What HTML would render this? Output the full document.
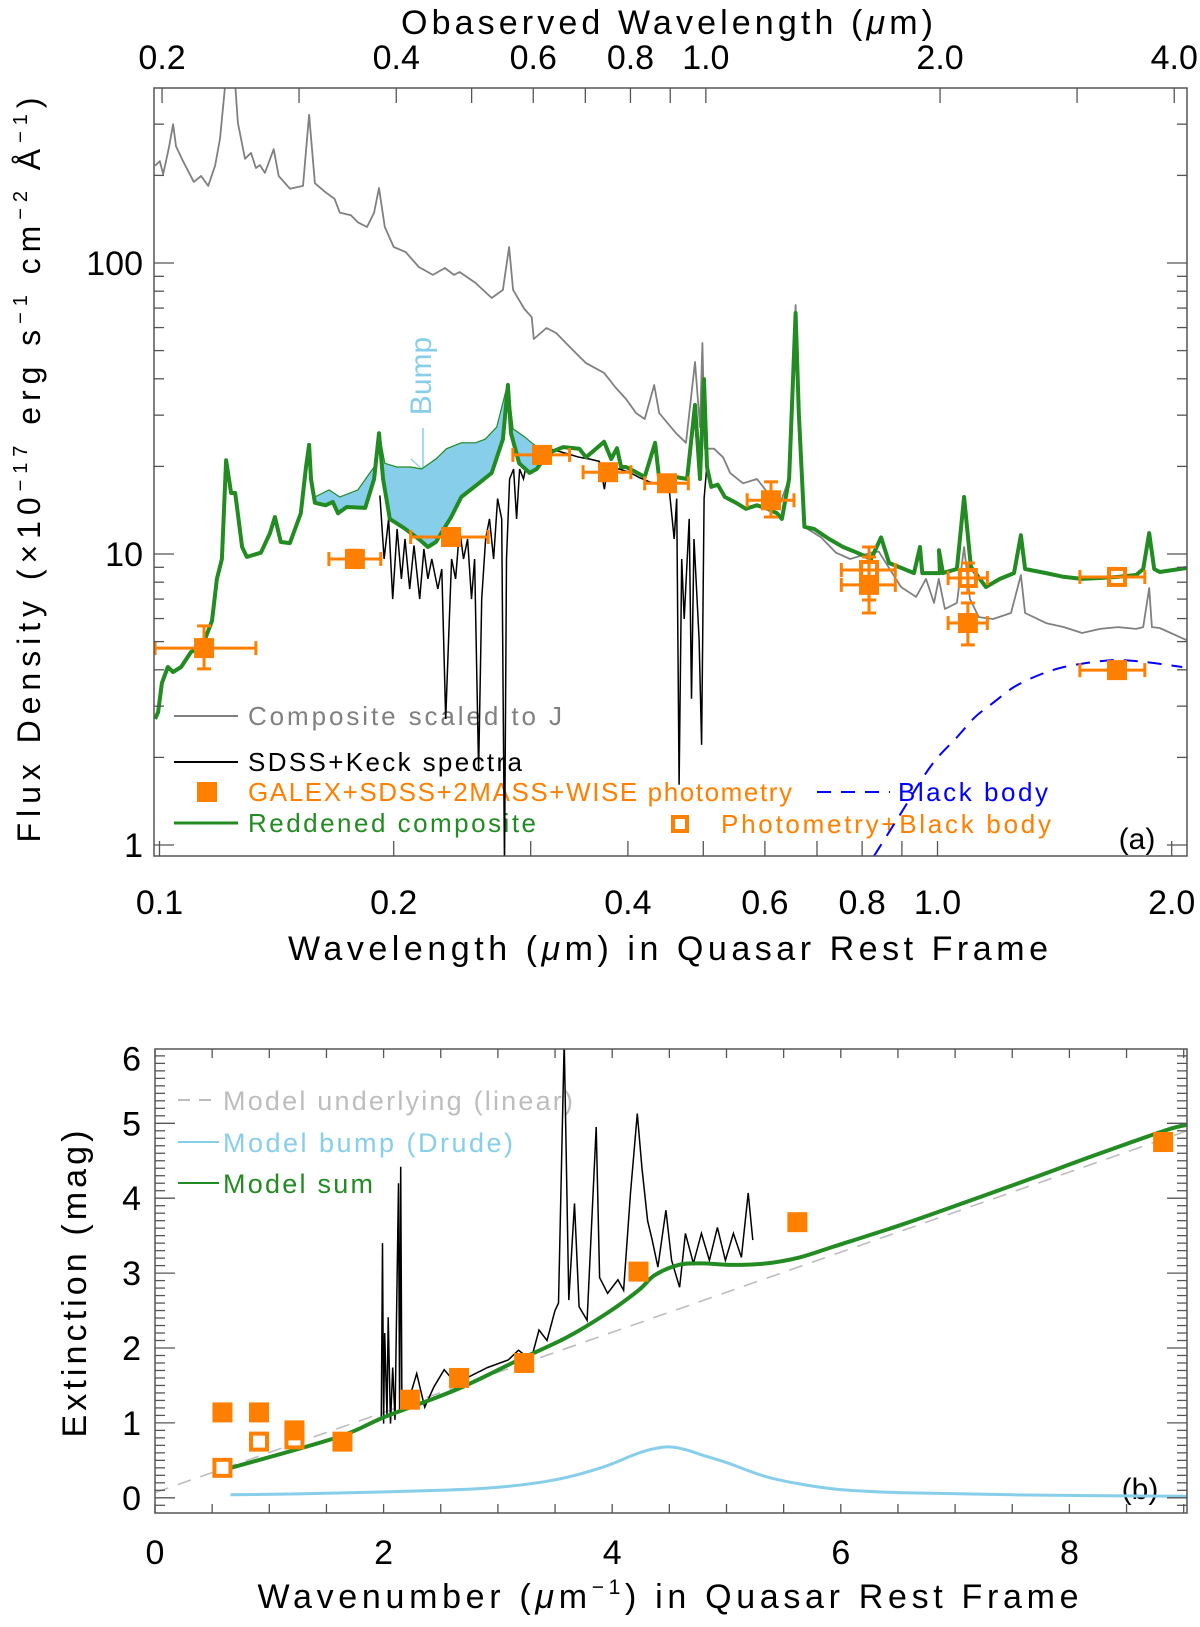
<!DOCTYPE html>
<html><head><meta charset="utf-8"><title>Quasar SED and extinction curve</title>
<style>
html,body{margin:0;padding:0;background:#fff;}
svg{display:block;font-family:"Liberation Sans","DejaVu Sans",sans-serif;}
</style></head>
<body>
<svg id="fig" xmlns="http://www.w3.org/2000/svg" width="1200" height="1627" viewBox="0 0 1200 1627">
<defs>
<clipPath id="clipA"><rect x="154" y="88" width="1033" height="768"/></clipPath>
<clipPath id="clipB"><rect x="155" y="1049" width="1032" height="464"/></clipPath>
</defs>
<rect x="0" y="0" width="1200" height="1627" fill="#fff"/>

<text x="667" y="34" font-size="34" text-anchor="middle" textLength="532" lengthAdjust="spacing">Obaserved Wavelength (<tspan font-style="italic">μ</tspan>m)</text>
<text x="668" y="960" font-size="34" text-anchor="middle" textLength="760" lengthAdjust="spacing">Wavelength (<tspan font-style="italic">μ</tspan>m) in Quasar Rest Frame</text>
<text transform="translate(40,470) rotate(-90)" font-size="32" text-anchor="middle" textLength="745" lengthAdjust="spacing">Flux Density (×10<tspan font-size="20" dy="-13">−17</tspan><tspan dy="13"> erg s</tspan><tspan font-size="20" dy="-13">−1</tspan><tspan dy="13"> cm</tspan><tspan font-size="20" dy="-13">−2</tspan><tspan dy="13"> Å</tspan><tspan font-size="20" dy="-13">−1</tspan><tspan dy="13">)</tspan></text>

<g id="legendA" font-size="26">
  <line x1="174" y1="716" x2="238" y2="716" stroke="#808080" stroke-width="2"/>
  <text x="248" y="725" fill="#808080" textLength="314" lengthAdjust="spacing">Composite scaled to J</text>
  <line x1="174" y1="762" x2="238" y2="762" stroke="#000" stroke-width="2"/>
  <text x="248" y="771" fill="#000" textLength="274" lengthAdjust="spacing">SDSS+Keck spectra</text>
  <rect x="197" y="782" width="20" height="20" fill="#FF7F00"/>
  <text x="248" y="801" fill="#FF7F00" textLength="544" lengthAdjust="spacing">GALEX+SDSS+2MASS+WISE photometry</text>
  <line x1="817" y1="792" x2="890" y2="792" stroke="#0000FF" stroke-width="2" stroke-dasharray="14,10"/>
  <text x="898" y="801" fill="#0000FF" textLength="150" lengthAdjust="spacing">Black body</text>
  <line x1="174" y1="823" x2="238" y2="823" stroke="#228B22" stroke-width="3"/>
  <text x="248" y="832" fill="#228B22" textLength="288" lengthAdjust="spacing">Reddened composite</text>
  <rect x="673" y="817" width="14" height="14" fill="none" stroke="#FF7F00" stroke-width="4"/>
  <text x="721" y="833" fill="#FF7F00" textLength="330" lengthAdjust="spacing">Photometry+Black body</text>
</g>
<text x="1137" y="849" font-size="30" text-anchor="middle">(a)</text>
<text transform="translate(431,376) rotate(-90)" font-size="30" fill="#87CEEB" text-anchor="middle">Bump</text>
<line x1="423" y1="428" x2="423" y2="470" stroke="#87CEEB" stroke-width="1.5"/>
<line x1="411" y1="459" x2="423" y2="470" stroke="#87CEEB" stroke-width="1.2"/>
<line x1="435" y1="459" x2="423" y2="470" stroke="#87CEEB" stroke-width="1.2"/>

<text x="668" y="1608" font-size="34" text-anchor="middle" textLength="821" lengthAdjust="spacing">Wavenumber (<tspan font-style="italic">μ</tspan>m<tspan font-size="21" dy="-14">−1</tspan><tspan dy="14">) in Quasar Rest Frame</tspan></text>
<text transform="translate(86,1284) rotate(-90)" font-size="34" text-anchor="middle" textLength="307" lengthAdjust="spacing">Extinction (mag)</text>
<g id="legendB" font-size="27">
  <line x1="178" y1="1100" x2="219" y2="1100" stroke="#bdbdbd" stroke-width="2" stroke-dasharray="12,9"/>
  <text x="223" y="1110" fill="#bdbdbd" textLength="350" lengthAdjust="spacing">Model underlying (linear)</text>
  <line x1="178" y1="1142" x2="219" y2="1142" stroke="#87CEEB" stroke-width="2"/>
  <text x="223" y="1152" fill="#87CEEB" textLength="290" lengthAdjust="spacing">Model bump (Drude)</text>
  <line x1="178" y1="1183" x2="219" y2="1183" stroke="#228B22" stroke-width="2"/>
  <text x="223" y="1193" fill="#228B22" textLength="150" lengthAdjust="spacing">Model sum</text>
</g>
<text x="1140" y="1499" font-size="30" text-anchor="middle">(b)</text>

<g id="layerA"></g>
<g id="layerB"></g>
<g id="axes"></g>
</svg>

<script>
// ---------- Panel (a) data ----------
const compLam = [0.0987,0.1001,0.1011,0.1029,0.1041,0.1050,0.1072,0.1107,0.1131,0.1155,0.1179,0.1196,0.1214,0.1228,0.1243,0.1250,0.1261,0.1288,0.1311,0.1330,0.1346,0.1366,0.1402,0.1423,0.1471,0.1529,0.1557,0.1584,0.1635,0.1679,0.1705,0.1762,0.1799,0.1848,0.1887,0.1915,0.1948,0.2000,0.2072,0.2154,0.2246,0.2327,0.2390,0.2431,0.2548,0.2673,0.2763,0.2814,0.2848,0.2945,0.3009,0.3028,0.3144,0.3233,0.3389,0.3533,0.3728,0.3851,0.3978,0.4098,0.4204,0.4324,0.4388,0.4612,0.4751,0.4879,0.4951,0.4987,0.5024,0.5161,0.5301,0.5412,0.5623,0.5861,0.6054,0.6256,0.6441,0.6571,0.6634,0.6738,0.7085,0.7406,0.7720,0.8215,0.8402,0.8977,0.9385,0.9665,0.9897,1.004,1.022,1.059,1.082,1.101,1.130,1.179,1.243,1.280,1.296,1.379,1.454,1.534,1.618,1.706,1.800,1.838,1.871,1.886,1.930,2.089];
const compFlux = [216,224,202,252,300,252,224,190,199,184,216,267,403,499,499,425,303,228,239,212,217,204,246,199,180,184,323,188,175,166,149,146,138,133,149,181,133,113.5,109,96.9,91,96.1,91,93.1,85.4,75.8,80.8,113.5,80.8,69.5,65.2,54.8,59.8,57.5,50.6,45.3,41.9,37.5,34.1,30.5,29.1,38.1,30.5,26.0,24.1,45.7,27.3,53.1,23.0,23.0,21.5,19.0,17.5,18.1,16.2,14.5,18.1,71.7,29.1,12.4,11.4,10.1,9.61,10.1,10.2,7.70,7.12,8.21,6.79,8.21,6.47,6.79,10.57,7.00,6.07,5.98,6.27,8.47,6.27,5.79,5.61,5.35,5.53,5.61,5.53,5.61,7.64,5.61,5.57,5.06];

const redLam = [0.0987,0.0996,0.1007,0.1025,0.1041,0.1066,0.1098,0.1134,0.1168,0.1185,0.1203,0.1218,0.1236,0.1251,0.1277,0.1295,0.1350,0.1387,0.1407,0.1432,0.1471,0.1519,0.1543,0.1557,0.1566,0.1584,0.1635,0.1670,0.1696,0.1741,0.1838,0.1887,0.1915,0.1938,0.1977,0.2060,0.2154,0.2213,0.2266,0.2371,0.2443,0.2573,0.2673,0.2763,0.2804,0.2830,0.2900,0.2990,0.3054,0.3159,0.3303,0.3464,0.3533,0.3728,0.3807,0.3873,0.3920,0.3978,0.4098,0.4204,0.4335,0.4388,0.4596,0.4766,0.4879,0.4951,0.5010,0.5055,0.5120,0.5220,0.5330,0.5510,0.5670,0.5860,0.6050,0.6220,0.6310,0.6445,0.6570,0.6634,0.6744,0.6939,0.7256,0.7563,0.7882,0.8215,0.8462,0.8665,0.9057,0.9328,0.9495,0.9560,1.007,1.0044,1.016,1.059,1.082,1.104,1.154,1.203,1.254,1.280,1.296,1.379,1.454,1.534,1.618,1.706,1.800,1.838,1.871,1.899,1.930,2.089];
const redFlux = [2.71,2.86,3.60,4.09,3.93,4.09,4.61,4.79,5.89,8.21,9.61,21.0,16.2,16.2,10.57,9.77,10.1,11.8,13.4,11.0,10.9,13.8,19.9,23.7,18.1,15.0,14.7,15.1,13.8,14.5,14.4,18.1,26.0,18.1,13.2,12.3,11.26,10.57,11.0,13.4,15.7,17.5,19.0,24.8,38.1,26.0,20.5,19.0,19.6,22.2,23.3,23.0,21.5,24.3,21.2,23.1,19.9,19.9,19.1,18.4,24.1,18.1,18.4,18.1,32.5,18.1,39.9,19.9,17.0,17.3,15.7,15.0,14.3,14.7,14.3,13.8,13.2,18.1,67.3,30.5,12.4,12.2,11.26,10.57,10.1,9.61,11.4,9.31,8.88,8.60,10.57,8.60,8.60,10.3,8.60,8.88,15.7,9.02,7.70,8.21,8.60,11.6,8.88,8.60,8.34,8.21,8.27,8.34,8.47,8.88,11.8,8.88,8.67,8.95];

const bumpTopLam = [0.1584,0.1652,0.1705,0.1799,0.1887,0.1915,0.1948,0.2018,0.2103,0.2172,0.2266,0.2339,0.2443,0.2548,0.2622,0.2713,0.2804,0.2848,0.2945,0.3009,0.3079];
const bumpTopFlux = [15.7,16.6,15.7,16.6,19.9,26.3,20.5,19.9,19.9,19.6,21.2,23.0,24.1,24.1,24.8,27.3,38.7,26.9,25.3,24.1,23.0];

const specLam = [0.1920,0.1944,0.1970,0.1994,0.2020,0.2046,0.2068,0.2097,0.2124,0.2160,0.2187,0.2213,0.2239,0.2279,0.2306,0.2333,0.2353,0.2374,0.2402,0.2431,0.2459,0.2489,0.2518,0.2541,0.2571,0.2595,0.2625,0.2656,0.2688,0.2720,0.2753,0.2776,0.2793,0.2818,0.2852,0.2877,0.2903,0.2937,0.2972,0.3025,0.3079,0.3171,0.3266,0.3364,0.3465,0.3569,0.3676,0.3731,0.3764,0.3900,0.4016,0.4137,0.4261,0.4388,0.4520,0.4587,0.4621,0.4655,0.4690,0.4725,0.4795,0.4829,0.4864,0.4938,0.4975,0.5012,0.5049];
const specFlux = [15.9,9.61,13.2,7.00,12.2,8.21,11.26,7.58,10.7,7.00,10.4,8.21,9.61,7.58,8.88,2.71,5.10,9.61,8.21,12.2,9.61,11.26,7.00,9.61,1.81,7.00,11.26,13.2,9.61,15.5,13.2,0.85,9.61,18.1,19.6,13.2,19.6,18.1,21.2,23.0,22.0,23.0,22.5,22.0,21.5,21.2,20.8,16.7,19.6,19.6,19.1,18.3,17.7,17.3,16.7,11.26,15.5,1.61,9.61,5.98,13.2,3.18,11.26,5.10,2.21,15.5,19.6];

const bbLam = [0.8286,0.8913,0.9809,1.060,1.117,1.179,1.254,1.351,1.454,1.584,1.706,1.854,2.063];
const bbFlux = [0.917,1.248,1.87,2.35,2.75,3.08,3.49,3.84,4.09,4.25,4.32,4.25,4.09];

const photLam   = [0.1141,0.1783,0.2370,0.3102,0.3771,0.4491,0.6109,0.8166,1.094,1.701];
const photFlux  = [4.75,9.61,11.44,21.9,19.1,17.5,15.3,7.83,5.79,3.99];
const photLamLo = [0.0987,0.1651,0.2103,0.2846,0.3503,0.4204,0.5693,0.7523,1.032,1.524];
const photLamHi = [0.1330,0.1925,0.2645,0.3366,0.4035,0.4783,0.6539,0.8826,1.159,1.847];
const photFluxLo = [4.03,9.0,null,null,null,null,13.4,6.27,4.87,null];
const photFluxHi = [5.66,10.3,null,null,null,null,17.7,9.77,6.79,null];

const pbbLam   = [0.8166,1.094,1.701];
const pbbFlux  = [8.81,8.27,8.34];
const pbbLamLo = [0.7523,1.032,1.524];
const pbbLamHi = [0.8826,1.159,1.847];
const pbbFluxLo = [6.95,7.34,null];
const pbbFluxHi = [10.57,9.31,null];

const restTicks = [0.1,0.2,0.3,0.4,0.5,0.6,0.7,0.8,0.9,1.0,2.0];
const restTickLabels = ["0.1","0.2","0.4","0.6","0.8","1.0","2.0"];
const obsTicks = [0.2,0.3,0.4,0.5,0.6,0.7,0.8,0.9,1.0,2.0,3.0,4.0];
const obsTickLabels = ["0.2","0.4","0.6","0.8","1.0","2.0","4.0"];
const fluxTickLabels = ["1","10","100"];
const onePlusZ = 1.985;

// ---------- Panel (b) data ----------
const sumK = [0.665,1.60,2.01,2.63,3.18,3.60,3.95,4.23,4.37,4.58,4.78,5.06,5.35,5.64,5.93,6.52,7.10,7.68,8.27,8.85,9.03];
const sumA = [0.40,0.81,1.08,1.44,1.84,2.14,2.46,2.77,2.97,3.11,3.13,3.11,3.13,3.21,3.35,3.64,3.95,4.27,4.60,4.91,4.98];
const linK = [0,9.03];
const linA = [0.07,4.90];
const drudeK = [0.66,1.5,2.5,3.0,3.5,3.9,4.2,4.35,4.5,4.65,4.77,5.0,5.35,5.7,6.0,6.5,7.5,9.03];
const drudeA = [0.04,0.06,0.10,0.14,0.24,0.40,0.58,0.65,0.68,0.64,0.58,0.47,0.28,0.17,0.11,0.07,0.04,0.02];
const extK = [1.98,1.99,2.00,2.01,2.03,2.04,2.06,2.08,2.10,2.13,2.14,2.15,2.16,2.22,2.29,2.36,2.44,2.53,2.63,2.74,2.91,3.09,3.18,3.29,3.36,3.43,3.50,3.53,3.58,3.62,3.67,3.71,3.78,3.86,3.89,3.96,4.05,4.10,4.16,4.22,4.26,4.31,4.35,4.40,4.47,4.52,4.59,4.64,4.71,4.78,4.85,4.92,4.99,5.06,5.13,5.19,5.23];
const extA = [1.08,3.40,0.99,2.20,1.08,2.41,0.99,1.74,1.04,4.20,1.17,4.42,1.30,1.30,1.66,1.21,1.48,1.71,1.53,1.61,1.74,1.84,1.97,1.84,2.24,2.10,2.50,2.60,6.10,2.64,3.93,2.55,2.37,4.95,2.94,2.73,2.91,2.77,4.07,5.13,4.41,3.70,3.44,3.08,3.84,3.17,2.81,3.53,3.13,3.53,3.17,3.61,3.17,3.53,3.21,4.07,3.44];
const ptK = [0.59,0.91,1.22,1.64,2.23,2.66,3.23,4.23,5.62,8.82];
const ptA = [1.14,1.14,0.90,0.75,1.31,1.60,1.80,3.02,3.68,4.75];
const openK = [0.59,0.91,1.22];
const openA = [0.40,0.75,0.78];
const kTickLabels = ["0","2","4","6","8"];
const aTickLabels = ["0","1","2","3","4","5","6"];

// ---------- scales ----------
const A = {x0:154, x1:1187, y0:88, y1:856};
const B = {x0:155, x1:1187, y0:1049, y1:1513};
function xA(l){ return 159.5 + 778*Math.log10(l/0.1); }
function yA(f){ return 845 - 291*Math.log10(f); }
function xB(k){ return 155 + 114.3*k; }
function yB(a){ return 1497.8 - 74.9*a; }

const NS = 'http://www.w3.org/2000/svg';
function el(tag, attrs, parent){
  const e = document.createElementNS(NS, tag);
  for (const k in attrs) e.setAttribute(k, attrs[k]);
  parent.appendChild(e);
  return e;
}
function pathD(xs, ys, fx, fy){
  let d = '';
  for (let i=0;i<xs.length;i++){ d += (i?'L':'M') + fx(xs[i]).toFixed(1) + ',' + fy(ys[i]).toFixed(1); }
  return d;
}
function smoothD(xs, ys, fx, fy){
  const p = xs.map(function(x,i){ return [fx(x), fy(ys[i])]; });
  let d = 'M' + p[0][0].toFixed(1) + ',' + p[0][1].toFixed(1);
  for (let i=0;i<p.length-1;i++){
    const p0 = p[Math.max(0,i-1)], p1 = p[i], p2 = p[i+1], p3 = p[Math.min(p.length-1,i+2)];
    const c1x = p1[0] + (p2[0]-p0[0])/6, c1y = p1[1] + (p2[1]-p0[1])/6;
    const c2x = p2[0] - (p3[0]-p1[0])/6, c2y = p2[1] - (p3[1]-p1[1])/6;
    d += 'C' + c1x.toFixed(1) + ',' + c1y.toFixed(1) + ' ' + c2x.toFixed(1) + ',' + c2y.toFixed(1) + ' ' + p2[0].toFixed(1) + ',' + p2[1].toFixed(1);
  }
  return d;
}

const layerA = document.getElementById('layerA');
const layerB = document.getElementById('layerB');
const axes = document.getElementById('axes');
const gA = el('g', {'clip-path':'url(#clipA)'}, layerA);


const gB = el('g', {'clip-path':'url(#clipB)'}, layerB);



// ---------- Panel (a) marks ----------
const comp = el('path', {d:pathD(compLam, compFlux, xA, yA), fill:'none', stroke:'#808080', 'stroke-width':1.8, 'stroke-linejoin':'round'}, gA);



const spec = el('path', {d:pathD(specLam, specFlux, xA, yA), fill:'none', stroke:'#000', 'stroke-width':1.5}, gA);



(function(){
  const lo = bumpTopLam[0], hi = bumpTopLam[bumpTopLam.length-1];
  let d = pathD(bumpTopLam, bumpTopFlux, xA, yA);
  for (let i=redLam.length-1;i>=0;i--){
    if (redLam[i] >= lo && redLam[i] <= hi) d += 'L' + xA(redLam[i]).toFixed(1) + ',' + yA(redFlux[i]).toFixed(1);
  }
  d += 'Z';
  const f = el('path', {d:d, fill:'#87CEEB', stroke:'#87CEEB', 'stroke-width':1}, gA);
  
  
  const top = el('path', {d:pathD(bumpTopLam, bumpTopFlux, xA, yA), fill:'none', stroke:'#228B22', 'stroke-width':1.2}, gA);
  
  
})();

const red = el('path', {d:pathD(redLam, redFlux, xA, yA), fill:'none', stroke:'#228B22', 'stroke-width':4, 'stroke-linejoin':'round'}, gA);



const bb = el('path', {d:smoothD(bbLam, bbFlux, xA, yA), fill:'none', stroke:'#0000FF', 'stroke-width':2, 'stroke-dasharray':'14,10'}, gA);



function errBars(lam, flux, lLo, lHi, fLo, fHi, parent){
  const cx = xA(lam), cy = yA(flux);
  const g = el('g', {stroke:'#FF7F00', 'stroke-width':3, fill:'none'}, parent);
  el('line', {x1:xA(lLo), y1:cy, x2:xA(lHi), y2:cy}, g);
  el('line', {x1:xA(lLo), y1:cy-7, x2:xA(lLo), y2:cy+7}, g);
  el('line', {x1:xA(lHi), y1:cy-7, x2:xA(lHi), y2:cy+7}, g);
  if (fLo !== null){
    el('line', {x1:cx, y1:yA(fLo), x2:cx, y2:yA(fHi)}, g);
    el('line', {x1:cx-7, y1:yA(fLo), x2:cx+7, y2:yA(fLo)}, g);
    el('line', {x1:cx-7, y1:yA(fHi), x2:cx+7, y2:yA(fHi)}, g);
  }
  return g;
}
for (let i=0;i<pbbLam.length;i++){
  const eb = errBars(pbbLam[i], pbbFlux[i], pbbLamLo[i], pbbLamHi[i], pbbFluxLo[i], pbbFluxHi[i], gA);
  
  
  const s = el('rect', {x:xA(pbbLam[i])-8, y:yA(pbbFlux[i])-8, width:16, height:16, fill:'none', stroke:'#FF7F00', 'stroke-width':4}, gA);
  
  
}
for (let i=0;i<photLam.length;i++){
  const eb = errBars(photLam[i], photFlux[i], photLamLo[i], photLamHi[i], photFluxLo[i], photFluxHi[i], gA);
  
  
  const s = el('rect', {x:xA(photLam[i])-10, y:yA(photFlux[i])-10, width:20, height:20, fill:'#FF7F00'}, gA);
  
  
}

// ---------- Panel (b) marks ----------
const lin = el('path', {d:pathD(linK, linA, xB, yB), fill:'none', stroke:'#bdbdbd', 'stroke-width':1.6, 'stroke-dasharray':'14,10'}, gB);



const drude = el('path', {d:smoothD(drudeK, drudeA, xB, yB), fill:'none', stroke:'#87CEEB', 'stroke-width':3}, gB);



const ext = el('path', {d:pathD(extK, extA, xB, yB), fill:'none', stroke:'#000', 'stroke-width':1.5}, gB);



const sum = el('path', {d:smoothD(sumK, sumA, xB, yB), fill:'none', stroke:'#228B22', 'stroke-width':4, 'stroke-linejoin':'round'}, gB);



for (let i=0;i<openK.length;i++){
  const s = el('rect', {x:xB(openK[i])-8, y:yB(openA[i])-8, width:16, height:16, fill:'#fff', stroke:'#FF7F00', 'stroke-width':4}, gB);
  
  
}
for (let i=0;i<ptK.length;i++){
  const s = el('rect', {x:xB(ptK[i])-10, y:yB(ptA[i])-10, width:20, height:20, fill:'#FF7F00'}, gB);
  
  
}

// ---------- Axes ----------
const frameA = el('rect', {x:A.x0, y:A.y0, width:A.x1-A.x0, height:A.y1-A.y0, fill:'none', stroke:'#555', 'stroke-width':1.5}, axes);


const frameB = el('rect', {x:B.x0, y:B.y0, width:B.x1-B.x0, height:B.y1-B.y0, fill:'none', stroke:'#555', 'stroke-width':1.5}, axes);



const tickG = el('g', {stroke:'#555', 'stroke-width':1.3}, axes);


const labG = el('g', {'font-size':34, fill:'#000', 'text-anchor':'middle'}, axes);



restTicks.forEach(function(v){ const x = xA(v); el('line', {x1:x, y1:A.y1, x2:x, y2:A.y1-15}, tickG); });
restTickLabels.forEach(function(s){
  const t = el('text', {x:xA(parseFloat(s)), y:914}, labG);
  t.textContent = s;
  
  
});
obsTicks.forEach(function(v){ const x = xA(v/onePlusZ); el('line', {x1:x, y1:A.y0, x2:x, y2:A.y0+15}, tickG); });
obsTickLabels.forEach(function(s){
  const t = el('text', {x:xA(parseFloat(s)/onePlusZ), y:69}, labG);
  t.textContent = s;
  
  
});
[1,10,100].forEach(function(dec){
  for (let m=1;m<=9;m++){
    const f = dec*m;
    if (f < 0.92 || f > 399) continue;
    const y = yA(f), L = (m===1)?20:10;
    el('line', {x1:A.x0, y1:y, x2:A.x0+L, y2:y}, tickG);
    el('line', {x1:A.x1, y1:y, x2:A.x1-L, y2:y}, tickG);
  }
});
fluxTickLabels.forEach(function(s){
  const t = el('text', {x:143, y:yA(parseFloat(s))+12, 'text-anchor':'end'}, labG);
  t.textContent = s;
  
  
});

for (let i=0;i<=18;i++){
  const x = xB(i*0.5);
  if (x > B.x1) continue;
  el('line', {x1:x, y1:B.y1, x2:x, y2:B.y1-9}, tickG);
  el('line', {x1:x, y1:B.y0, x2:x, y2:B.y0+9}, tickG);
}
kTickLabels.forEach(function(s){
  const t = el('text', {x:xB(parseFloat(s)), y:1564}, labG);
  t.textContent = s;
  
  
});
for (let i=-1;i<=60;i++){
  const v = i/10, y = yB(v);
  if (y < B.y0-0.5 || y > B.y1) continue;
  const L = (i%10===0)?20:10;
  el('line', {x1:B.x0, y1:y, x2:B.x0+L, y2:y}, tickG);
  el('line', {x1:B.x1, y1:y, x2:B.x1-L, y2:y}, tickG);
}
aTickLabels.forEach(function(s){
  const v = parseFloat(s);
  const t = el('text', {x:141, y:yB(v)+12 + (v===6?10:0), 'text-anchor':'end'}, labG);
  t.textContent = s;
  
  
});
</script>
</body></html>
